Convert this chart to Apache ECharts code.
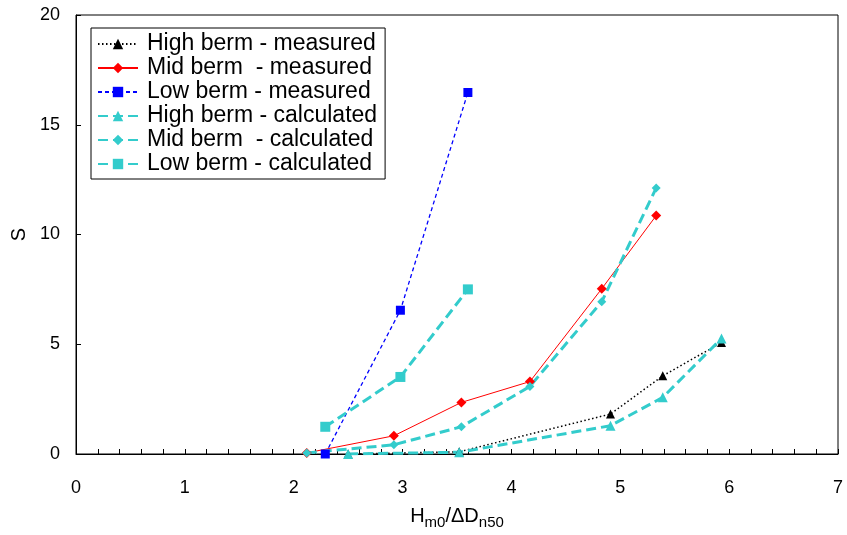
<!DOCTYPE html>
<html><head><meta charset="utf-8">
<script src="https://cdn.jsdelivr.net/npm/echarts@6/dist/echarts.min.js"></script>
<style>html,body{margin:0;padding:0;background:#fff}#c{width:847px;height:535px}</style>
</head><body><div id="c"></div>
<script>
const seriesNames = ['High berm - measured','Mid berm  - measured','Low berm - measured','High berm - calculated','Mid berm  - calculated','Low berm - calculated'];
const highMeasured = [[2.50,0.0],[3.52,0.10],[4.91,1.82],[5.39,3.56],[5.93,5.08]];
const midMeasured  = [[2.12,0.05],[2.92,0.83],[3.54,2.35],[4.17,3.30],[4.83,7.53],[5.33,10.86]];
const lowMeasured  = [[2.29,0.0],[2.98,6.55],[3.60,16.47]];
const highCalc     = [[2.50,0.0],[3.52,0.08],[4.91,1.29],[5.39,2.58],[5.93,5.26]];
const midCalc      = [[2.12,0.05],[2.92,0.42],[3.54,1.24],[4.17,3.08],[4.83,6.94],[5.33,12.12]];
const lowCalc      = [[2.29,1.24],[2.98,3.51],[3.60,7.50]];
const xTicks = [0,1,2,3,4,5,6,7];
const yTicks = [0,5,10,15,20];

const FONT = 'Liberation Sans, Arial, sans-serif';
const CYAN = '#33CCCC';
const chart = echarts.init(document.getElementById('c'), null, {renderer:'canvas'});
function mk(name, data, color, lineType, width, symbol, size){
  return {name, type:'line', data, symbol, symbolSize:size, showSymbol:true,
    itemStyle:{color, borderWidth:0}, lineStyle:{color, width, type:lineType}, animation:false, z:2};
}
chart.setOption({
  backgroundColor:'#fff',
  animation:false,
  grid:{left:76, right:9, top:15, bottom:80, show:true, borderColor:'#000', borderWidth:1, backgroundColor:'transparent'},
  legend:{
    orient:'vertical', left:91, top:28,
    backgroundColor:'#fff', borderColor:'#000', borderWidth:1,
    padding:[4,8,3,6], itemGap:0, itemWidth:40, itemHeight:13,
    textStyle:{fontFamily:FONT, fontSize:23, color:'#000', lineHeight:24, padding:[0,0,0,4]},
    data: seriesNames
  },
  xAxis:{
    type:'value', min:xTicks[0], max:xTicks[xTicks.length-1], interval:1,
    axisLine:{onZero:false, lineStyle:{color:'#000', width:1}},
    axisTick:{inside:true, length:5, lineStyle:{color:'#000'}},
    minorTick:{show:true, splitNumber:5, length:5, lineStyle:{color:'#000'}},
    splitLine:{show:false},
    axisLabel:{color:'#000', fontFamily:FONT, fontSize:18, margin:25},
    name:'{a|H}{s|m0}{a|/ΔD}{s|n50}', nameLocation:'middle', nameGap:52,
    nameTextStyle:{rich:{a:{fontFamily:FONT, fontSize:20, color:'#000', verticalAlign:'bottom'},
                         s:{fontFamily:FONT, fontSize:15, color:'#000', verticalAlign:'bottom', padding:[0,0,-4,0]}}}
  },
  yAxis:{
    type:'value', min:yTicks[0], max:yTicks[yTicks.length-1], interval:5,
    axisLine:{show:true, onZero:false, lineStyle:{color:'#000', width:1}},
    axisTick:{show:true, inside:true, length:5, lineStyle:{color:'#000'}},
    splitLine:{show:false},
    axisLabel:{color:'#000', fontFamily:FONT, fontSize:18, margin:16},
    name:'S', nameLocation:'middle', nameRotate:90, nameGap:42,
    nameTextStyle:{fontFamily:FONT, fontSize:20, color:'#000'}
  },
  series:[
    mk(seriesNames[0], highMeasured, '#000000', [1.5,2.5], 1.5, 'triangle', 9),
    mk(seriesNames[1], midMeasured, '#FF0000', 'solid', 1, 'diamond', 10),
    mk(seriesNames[2], lowMeasured, '#0000FF', [4,3], 1.3, 'rect', 9),
    mk(seriesNames[3], highCalc, CYAN, [10,5], 3, 'triangle', 10),
    mk(seriesNames[4], midCalc, CYAN, [10,5], 3, 'diamond', 9),
    mk(seriesNames[5], lowCalc, CYAN, [10,5], 3, 'rect', 10)
  ]
});
</script></body></html>
